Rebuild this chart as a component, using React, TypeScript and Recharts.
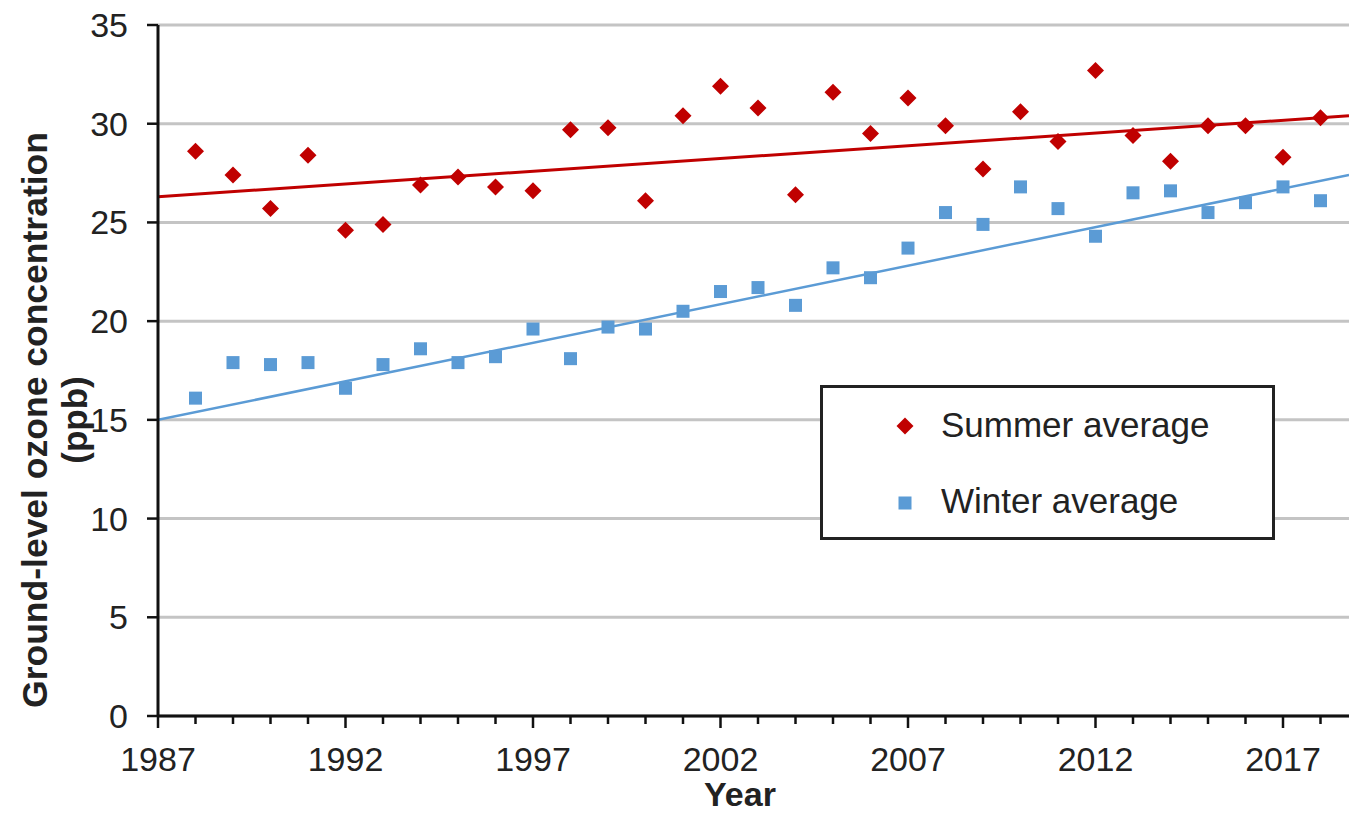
import {
    ComposedChart,
    Scatter,
    Line,
    XAxis,
    YAxis,
    CartesianGrid,
    Legend,
} from 'recharts';

// one value per year, 1988..2018
const years = [
    1988, 1989, 1990, 1991, 1992, 1993, 1994, 1995, 1996, 1997, 1998, 1999, 2000, 2001, 2002, 2003,
    2004, 2005, 2006, 2007, 2008, 2009, 2010, 2011, 2012, 2013, 2014, 2015, 2016, 2017, 2018,
];
const summerValues = [
    28.6, 27.4, 25.7, 28.4, 24.6, 24.9, 26.9, 27.3, 26.8, 26.6, 29.7, 29.8, 26.1, 30.4, 31.9, 30.8,
    26.4, 31.6, 29.5, 31.3, 29.9, 27.7, 30.6, 29.1, 32.7, 29.4, 28.1, 29.9, 29.9, 28.3, 30.3,
];
const winterValues = [
    16.1, 17.9, 17.8, 17.9, 16.6, 17.8, 18.6, 17.9, 18.2, 19.6, 18.1, 19.7, 19.6, 20.5, 21.5, 21.7,
    20.8, 22.7, 22.2, 23.7, 25.5, 24.9, 26.8, 25.7, 24.3, 26.5, 26.6, 25.5, 26.0, 26.8, 26.1,
];

// linear trend lines as drawn (start / end of the visible x range)
const summerTrend = [
    { year: 1987, value: 26.3 },
    { year: 2018.76, value: 30.4 },
];
const winterTrend = [
    { year: 1987, value: 15.0 },
    { year: 2018.76, value: 27.4 },
];

const xTicks = [
    1987, 1988, 1989, 1990, 1991, 1992, 1993, 1994, 1995, 1996, 1997, 1998, 1999, 2000, 2001, 2002,
    2003, 2004, 2005, 2006, 2007, 2008, 2009, 2010, 2011, 2012, 2013, 2014, 2015, 2016, 2017, 2018,
];
const xLabelYears = [1987, 1992, 1997, 2002, 2007, 2012, 2017];
const yTicks = [0, 5, 10, 15, 20, 25, 30, 35];

const summer = years.map((year, i) => ({ year, value: summerValues[i] }));
const winter = years.map((year, i) => ({ year, value: winterValues[i] }));

const RED = '#C00000';
const BLUE = '#5B9BD5';
const FONT = '"Liberation Sans", Arial, sans-serif';

// eslint-disable-next-line @typescript-eslint/no-explicit-any
const Diamond = ({ cx, cy }: any) => {
    const r = 8.5;
    return <polygon points={`${cx},${cy - r} ${cx + r},${cy} ${cx},${cy + r} ${cx - r},${cy}`} fill={RED} />;
};

// eslint-disable-next-line @typescript-eslint/no-explicit-any
const Square = ({ cx, cy }: any) => {
    const s = 13;
    return <rect x={cx - s / 2} y={cy - s / 2} width={s} height={s} fill={BLUE} />;
};

// eslint-disable-next-line @typescript-eslint/no-explicit-any
const YearTick = ({ x, y, payload }: any) => {
    const major = xLabelYears.includes(payload.value);
    return (
        <g>
            <line x1={x} x2={x} y1={y} y2={y + (major ? 12 : 8)} stroke="#111" strokeWidth={2.5} />
            {major && (
                <text x={x} y={y + 55} textAnchor="middle" fontSize={34} fill="#222" fontFamily={FONT}>
                    {payload.value}
                </text>
            )}
        </g>
    );
};

const LegendBox = () => (
    <div
        style={{
            boxSizing: 'border-box',
            width: 455,
            height: 155,
            border: '3px solid #222',
            background: '#fff',
            position: 'relative',
            fontFamily: FONT,
            fontSize: 35,
            color: '#222',
        }}
    >
        <svg width={40} height={150} style={{ position: 'absolute', left: 62, top: 0 }}>
            <Diamond cx={20} cy={38} />
            <Square cx={20} cy={115} />
        </svg>
        <div style={{ position: 'absolute', left: 118, top: 17, lineHeight: '40px' }}>Summer average</div>
        <div style={{ position: 'absolute', left: 118, top: 93, lineHeight: '40px' }}>Winter average</div>
    </div>
);

export default function App() {
    return (
        <div style={{ position: 'absolute', left: 0, top: 0, width: 1349, height: 816, background: '#fff' }}>
            <ComposedChart width={1349} height={816} margin={{ top: 25, right: 0, bottom: 0, left: 0 }}>
                <CartesianGrid vertical={false} stroke="#C4C4C4" strokeWidth={3} />
                <XAxis
                    type="number"
                    dataKey="year"
                    domain={[1987, 2018.76]}
                    ticks={xTicks}
                    interval={0}
                    height={100}
                    tickSize={0}
                    tickMargin={0}
                    tickLine={false}
                    tick={<YearTick />}
                    axisLine={{ stroke: '#111', strokeWidth: 3 }}
                    allowDataOverflow
                />
                <YAxis
                    type="number"
                    domain={[0, 35]}
                    ticks={yTicks}
                    interval={0}
                    width={158}
                    tickSize={11}
                    tickMargin={19}
                    tickLine={{ stroke: '#111', strokeWidth: 2.5 }}
                    axisLine={{ stroke: '#111', strokeWidth: 3 }}
                    tick={{ fontSize: 34, fill: '#222', fontFamily: FONT }}
                />
                <Line
                    data={summerTrend}
                    dataKey="value"
                    stroke={RED}
                    strokeWidth={3}
                    dot={false}
                    activeDot={false}
                    isAnimationActive={false}
                />
                <Line
                    data={winterTrend}
                    dataKey="value"
                    stroke={BLUE}
                    strokeWidth={2.5}
                    dot={false}
                    activeDot={false}
                    isAnimationActive={false}
                />
                <Scatter data={summer} dataKey="value" shape={<Diamond />} isAnimationActive={false} />
                <Scatter data={winter} dataKey="value" shape={<Square />} isAnimationActive={false} />
                <Legend
                    layout="vertical"
                    align="center"
                    verticalAlign="middle"
                    content={<LegendBox />}
                    wrapperStyle={{ left: 820, top: 385, width: 455, height: 155 }}
                />
                <text
                    transform="translate(47 420) rotate(-90)"
                    textAnchor="middle"
                    fontSize={35.5}
                    fontWeight="bold"
                    fontFamily={FONT}
                    fill="#222"
                >
                    Ground-level ozone concentration
                </text>
                <text
                    transform="translate(87 420) rotate(-90)"
                    textAnchor="middle"
                    fontSize={35}
                    fontWeight="bold"
                    fontFamily={FONT}
                    fill="#222"
                >
                    (ppb)
                </text>
                <text x={740} y={806} textAnchor="middle" fontSize={34} fontWeight="bold" fontFamily={FONT} fill="#222">
                    Year
                </text>
            </ComposedChart>
        </div>
    );
}
